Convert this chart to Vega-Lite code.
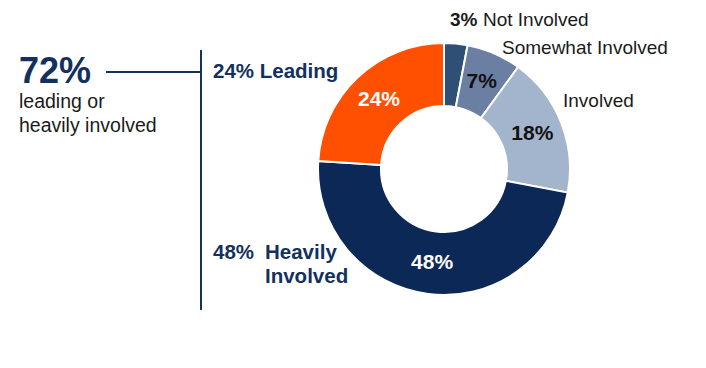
{
  "$schema": "https://vega.github.io/schema/vega-lite/v6.json",
  "width": 706,
  "height": 368,
  "autosize": {"type": "fit", "contains": "padding"},
  "padding": 0,
  "background": "white",
  "config": {"view": {"stroke": null}, "font": "Liberation Sans"},
  "data": {"values": [{}]},
  "datasets": {
    "slices": [
      {"category": "Not Involved", "pct": 3, "label": "", "idx": 1},
      {"category": "Somewhat Involved", "pct": 7, "label": "7%", "idx": 2},
      {"category": "Involved", "pct": 18, "label": "18%", "idx": 3},
      {"category": "Heavily Involved", "pct": 48, "label": "48%", "idx": 4},
      {"category": "Leading", "pct": 24, "label": "24%", "idx": 5}
    ]
  },
  "layer": [
    {
      "data": {"name": "slices"},
      "mark": {"type": "arc", "innerRadius": 63, "outerRadius": 126, "stroke": "white", "strokeWidth": 2},
      "encoding": {
        "theta": {"field": "pct", "type": "quantitative", "stack": true},
        "order": {"field": "idx", "type": "quantitative"},
        "color": {
          "field": "category", "type": "nominal", "legend": null,
          "scale": {
            "domain": ["Not Involved", "Somewhat Involved", "Involved", "Heavily Involved", "Leading"],
            "range": ["#2f5074", "#6a7fa1", "#a3b4cd", "#0b2856", "#fe5000"]
          }
        },
        "x": {"datum": 444, "type": "quantitative", "scale": {"domain": [0, 706]}, "axis": null},
        "y": {"datum": 169, "type": "quantitative", "scale": {"domain": [0, 368], "reverse": true}, "axis": null}
      }
    },
    {
      "data": {"name": "slices"},
      "mark": {"type": "text", "radius": 95, "fontSize": 21, "fontWeight": "bold", "align": "center", "baseline": "middle"},
      "encoding": {
        "theta": {"field": "pct", "type": "quantitative", "stack": true},
        "order": {"field": "idx", "type": "quantitative"},
        "text": {"field": "label"},
        "color": {
          "condition": {"test": "datum.category === 'Leading' || datum.category === 'Heavily Involved'", "value": "white"},
          "value": "#111111"
        },
        "x": {"datum": 444, "type": "quantitative", "scale": {"domain": [0, 706]}, "axis": null},
        "y": {"datum": 169, "type": "quantitative", "scale": {"domain": [0, 368], "reverse": true}, "axis": null}
      }
    },
    {
      "mark": {"type": "rule", "color": "#15325f", "strokeWidth": 2},
      "encoding": {
        "x": {"datum": 106, "type": "quantitative", "scale": {"domain": [0, 706]}, "axis": null},
        "x2": {"datum": 201},
        "y": {"datum": 72, "type": "quantitative", "scale": {"domain": [0, 368], "reverse": true}, "axis": null}
      }
    },
    {
      "mark": {"type": "rule", "color": "#15325f", "strokeWidth": 2},
      "encoding": {
        "x": {"datum": 201, "type": "quantitative", "scale": {"domain": [0, 706]}, "axis": null},
        "y": {"datum": 50, "type": "quantitative", "scale": {"domain": [0, 368], "reverse": true}, "axis": null},
        "y2": {"datum": 310}
      }
    },
    {
      "mark": {"type": "text", "text": "72%", "fontSize": 36, "fontWeight": "bold", "color": "#13305e", "align": "left", "baseline": "alphabetic"},
      "encoding": {
        "x": {"datum": 19, "type": "quantitative", "scale": {"domain": [0, 706]}, "axis": null},
        "y": {"datum": 83, "type": "quantitative", "scale": {"domain": [0, 368], "reverse": true}, "axis": null}
      }
    },
    {
      "mark": {"type": "text", "text": ["leading or", "heavily involved"], "lineHeight": 24, "fontSize": 19.5, "color": "#1a1a1a", "align": "left", "baseline": "alphabetic"},
      "encoding": {
        "x": {"datum": 19, "type": "quantitative", "scale": {"domain": [0, 706]}, "axis": null},
        "y": {"datum": 108, "type": "quantitative", "scale": {"domain": [0, 368], "reverse": true}, "axis": null}
      }
    },
    {
      "mark": {"type": "text", "text": "24% Leading", "fontSize": 20.5, "fontWeight": "bold", "color": "#13305e", "align": "left", "baseline": "alphabetic"},
      "encoding": {
        "x": {"datum": 213, "type": "quantitative", "scale": {"domain": [0, 706]}, "axis": null},
        "y": {"datum": 78, "type": "quantitative", "scale": {"domain": [0, 368], "reverse": true}, "axis": null}
      }
    },
    {
      "mark": {"type": "text", "text": "48%", "fontSize": 20.5, "fontWeight": "bold", "color": "#13305e", "align": "left", "baseline": "alphabetic"},
      "encoding": {
        "x": {"datum": 213, "type": "quantitative", "scale": {"domain": [0, 706]}, "axis": null},
        "y": {"datum": 259, "type": "quantitative", "scale": {"domain": [0, 368], "reverse": true}, "axis": null}
      }
    },
    {
      "mark": {"type": "text", "text": ["Heavily", "Involved"], "lineHeight": 24, "fontSize": 20.5, "fontWeight": "bold", "color": "#13305e", "align": "left", "baseline": "alphabetic"},
      "encoding": {
        "x": {"datum": 265, "type": "quantitative", "scale": {"domain": [0, 706]}, "axis": null},
        "y": {"datum": 259, "type": "quantitative", "scale": {"domain": [0, 368], "reverse": true}, "axis": null}
      }
    },
    {
      "mark": {"type": "text", "text": "3%", "fontSize": 19, "fontWeight": "bold", "color": "#1a1a1a", "align": "left", "baseline": "alphabetic"},
      "encoding": {
        "x": {"datum": 450, "type": "quantitative", "scale": {"domain": [0, 706]}, "axis": null},
        "y": {"datum": 26, "type": "quantitative", "scale": {"domain": [0, 368], "reverse": true}, "axis": null}
      }
    },
    {
      "mark": {"type": "text", "text": "Not Involved", "fontSize": 19, "color": "#1a1a1a", "align": "left", "baseline": "alphabetic"},
      "encoding": {
        "x": {"datum": 483, "type": "quantitative", "scale": {"domain": [0, 706]}, "axis": null},
        "y": {"datum": 26, "type": "quantitative", "scale": {"domain": [0, 368], "reverse": true}, "axis": null}
      }
    },
    {
      "mark": {"type": "text", "text": "Somewhat Involved", "fontSize": 19, "color": "#1a1a1a", "align": "left", "baseline": "alphabetic"},
      "encoding": {
        "x": {"datum": 502, "type": "quantitative", "scale": {"domain": [0, 706]}, "axis": null},
        "y": {"datum": 54, "type": "quantitative", "scale": {"domain": [0, 368], "reverse": true}, "axis": null}
      }
    },
    {
      "mark": {"type": "text", "text": "Involved", "fontSize": 19, "color": "#1a1a1a", "align": "left", "baseline": "alphabetic"},
      "encoding": {
        "x": {"datum": 563, "type": "quantitative", "scale": {"domain": [0, 706]}, "axis": null},
        "y": {"datum": 107, "type": "quantitative", "scale": {"domain": [0, 368], "reverse": true}, "axis": null}
      }
    }
  ]
}
